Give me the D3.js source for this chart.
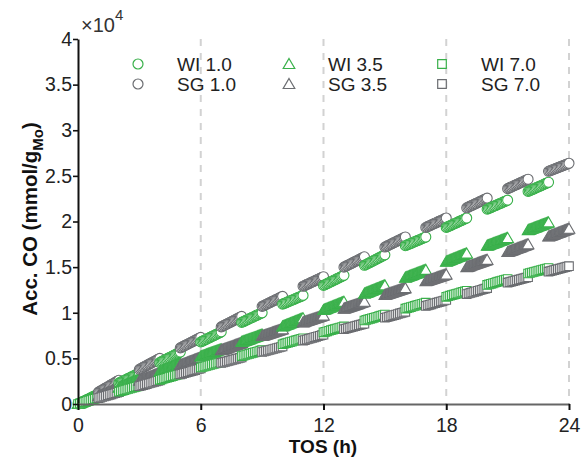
<!DOCTYPE html>
<html>
<head>
<meta charset="utf-8">
<script src="https://cdn.jsdelivr.net/npm/d3@7"></script>
<style>
  body { margin: 0; background: #fff; }
  svg { font-family: "Liberation Sans", Arial, sans-serif; display: block; }
</style>
</head>
<body>
<div class="container"></div>
<script>

// accumulated CO, in units of 1e4 mmol/g_Mo, one value per hour
var wiHours = [0,1,2,3,4,5,6,7,8,9,10,11,12,13,14,15,16,17,18,19,20,21,22,23];
var sgHours = [1,2,3,4,5,6,7,8,9,10,11,12,13,14,15,16,17,18,19,20,21,22,23,24];

var wi10 = [0, 0.11, 0.23, 0.34, 0.455, 0.57, 0.68, 0.79, 0.895, 1.0, 1.095, 1.19,
            1.30, 1.41, 1.52, 1.635, 1.735, 1.83, 1.935, 2.038, 2.135, 2.234, 2.33, 2.43];
var sg10 = [0.13, 0.26, 0.38, 0.50, 0.615, 0.73, 0.845, 0.96, 1.07, 1.18, 1.29, 1.395,
            1.50, 1.613, 1.72, 1.83, 1.935, 2.038, 2.15, 2.256, 2.36, 2.463, 2.55, 2.638];
var wi35 = [0, 0.09, 0.18, 0.27, 0.355, 0.44, 0.52, 0.60, 0.68, 0.76, 0.85, 0.94,
            1.03, 1.12, 1.21, 1.30, 1.385, 1.47, 1.56, 1.65, 1.735, 1.82, 1.905, 1.99];
var sg35 = [0.085, 0.17, 0.255, 0.34, 0.425, 0.51, 0.59, 0.67, 0.745, 0.82, 0.895, 0.97,
            1.045, 1.12, 1.195, 1.27, 1.345, 1.42, 1.50, 1.58, 1.665, 1.75, 1.835, 1.92];
var wi70 = [0, 0.07, 0.135, 0.20, 0.265, 0.33, 0.40, 0.46, 0.525, 0.59, 0.655, 0.72,
            0.785, 0.85, 0.915, 0.98, 1.045, 1.11, 1.175, 1.24, 1.305, 1.37, 1.43, 1.49];
var sg70 = [0.065, 0.13, 0.195, 0.26, 0.325, 0.39, 0.45, 0.51, 0.57, 0.63, 0.695, 0.76,
            0.82, 0.88, 0.945, 1.01, 1.075, 1.14, 1.205, 1.27, 1.33, 1.39, 1.45, 1.51];

var seriesNames = ['WI 1.0', 'SG 1.0', 'WI 3.5', 'SG 3.5', 'WI 7.0', 'SG 7.0'];
var xTicks = [0, 6, 12, 18, 24];
var yTicks = [0, 0.5, 1, 1.5, 2, 2.5, 3, 3.5, 4];

var loadChart = function () {

    const WIDTH = 581;
    const HEIGHT = 457;
    const LEFT = 78;
    const RIGHT = 569;
    const TOP = 39;
    const BOTTOM = 404;

    const GREEN = '#39b04a';
    const GRAY = '#6b6d71';
    const FONT = '"Liberation Sans", Arial, sans-serif';

    var xScale = d3.scaleLinear().domain([0, 24]).range([LEFT, RIGHT]);
    var yScale = d3.scaleLinear().domain([0, 4]).range([BOTTOM, TOP]);

    var svg = d3.select('.container').append('svg')
        .attr('width', WIDTH)
        .attr('height', HEIGHT);

    // dashed guides every 6 h
    svg.append('g').selectAll('line').data(xTicks.slice(1))
        .enter().append('line')
        .attr('x1', function (d) { return xScale(d); })
        .attr('x2', function (d) { return xScale(d); })
        .attr('y1', TOP)
        .attr('y2', BOTTOM)
        .attr('stroke', '#d2d2d2')
        .attr('stroke-width', 2)
        .attr('stroke-dasharray', '7,7');

    // marker outlines
    var shapes = {
        circle: function (x, y) {
            return 'M' + (x + 5) + ',' + y + 'A5,5 0 1,1 ' + (x - 5) + ',' + y + 'A5,5 0 1,1 ' + (x + 5) + ',' + y + 'Z';
        },
        triangle: function (x, y) {
            return 'M' + x + ',' + (y - 5.5) + 'L' + (x + 5.8) + ',' + (y + 4.5) + 'L' + (x - 5.8) + ',' + (y + 4.5) + 'Z';
        },
        square: function (x, y) {
            return 'M' + (x - 4.3) + ',' + (y - 4.3) + 'h8.6v8.6h-8.6Z';
        }
    };
    var sweepStep = { circle: 1.4, triangle: 0.8, square: 2 };

    var series = [
        { name: seriesNames[0], hours: wiHours, values: wi10, color: GREEN, shape: 'circle' },
        { name: seriesNames[1], hours: sgHours, values: sg10, color: GRAY, shape: 'circle' },
        { name: seriesNames[2], hours: wiHours, values: wi35, color: GREEN, shape: 'triangle' },
        { name: seriesNames[3], hours: sgHours, values: sg35, color: GRAY, shape: 'triangle' },
        { name: seriesNames[4], hours: wiHours, values: wi70, color: GREEN, shape: 'square' },
        { name: seriesNames[5], hours: sgHours, values: sg70, color: GRAY, shape: 'square' }
    ];

    // each run covers one hour; WI and SG runs alternate
    var runs = [];
    series.forEach(function (s, si) {
        for (var i = 0; i + 1 < s.hours.length; i += 2) {
            runs.push({
                s: s, order: si,
                t0: s.hours[i], v0: s.values[i],
                t1: s.hours[i + 1], v1: s.values[i + 1]
            });
        }
    });
    runs.sort(function (a, b) { return (a.t1 - b.t1) || (a.order - b.order); });

    var plot = svg.append('g').attr('class', 'plot');

    runs.forEach(function (r) {
        var x0 = xScale(r.t0), y0 = yScale(r.v0);
        var x1 = xScale(r.t1), y1 = yScale(r.v1);
        var len = Math.hypot(x1 - x0, y1 - y0);
        var n = Math.max(1, Math.ceil(len / sweepStep[r.s.shape]));
        var pos = d3.range(n + 1).map(function (k) {
            return [x0 + (x1 - x0) * k / n, y0 + (y1 - y0) * k / n];
        });
        plot.append('g').selectAll('path').data(pos)
            .enter().append('path')
            .attr('d', function (p) { return shapes[r.s.shape](p[0], p[1]); })
            .attr('fill', '#fff')
            .attr('stroke', r.s.color)
            .attr('stroke-width', 1.1);
    });

    // axes
    var yAxis = svg.append('g')
        .attr('transform', 'translate(' + LEFT + ',0)')
        .call(d3.axisLeft(yScale).tickValues(yTicks).tickSize(5).tickSizeOuter(0).tickPadding(1)
            .tickFormat(function (d) { return d; }));
    yAxis.select('.domain').attr('stroke', '#111').attr('stroke-width', 2);
    yAxis.selectAll('.tick line').attr('stroke', '#111').attr('stroke-width', 1.6);
    yAxis.selectAll('.tick text').attr('font-size', 19.5).attr('fill', '#222')
        .attr('font-family', FONT);

    var xAxis = svg.append('g')
        .attr('transform', 'translate(0,' + BOTTOM + ')')
        .call(d3.axisBottom(xScale).tickValues(xTicks).tickSize(6).tickSizeOuter(0).tickPadding(8));
    xAxis.select('.domain').attr('stroke', '#666').attr('stroke-width', 2);
    xAxis.selectAll('.tick line').attr('stroke', '#111').attr('stroke-width', 2);
    xAxis.selectAll('.tick text').attr('font-size', 19.5).attr('fill', '#222')
        .attr('font-family', FONT);

    // exponent above the y axis
    var expo = svg.append('text')
        .attr('x', 81).attr('y', 32)
        .attr('font-size', 20).attr('fill', '#333');
    expo.append('tspan').text('\u00d710');
    expo.append('tspan').attr('dy', -12).attr('font-size', 15).text('4');

    // axis titles
    var yTitle = svg.append('text')
        .attr('transform', 'translate(37,219) rotate(-90)')
        .attr('text-anchor', 'middle')
        .attr('font-size', 20.5).attr('font-weight', 'bold').attr('fill', '#111');
    yTitle.append('tspan').text('Acc. CO (mmol/g');
    yTitle.append('tspan').attr('dy', 6).attr('font-size', 15).text('Mo');
    yTitle.append('tspan').attr('dy', -6).text(')');

    svg.append('text')
        .attr('x', 323).attr('y', 453)
        .attr('text-anchor', 'middle')
        .attr('font-size', 19).attr('font-weight', 'bold').attr('fill', '#111')
        .text('TOS (h)');

    // legend, three columns of WI / SG pairs
    var legendCols = [138, 289, 442];
    var legendRows = [64, 84];
    var legend = svg.append('g').selectAll('g').data(series)
        .enter().append('g')
        .attr('transform', function (d, i) {
            return 'translate(' + legendCols[Math.floor(i / 2)] + ',' + legendRows[i % 2] + ')';
        });
    legend.append('path')
        .attr('d', function (d) { return shapes[d.shape](0, 0); })
        .attr('fill', '#fff')
        .attr('stroke', function (d) { return d.color; })
        .attr('stroke-width', 1.2);
    legend.append('text')
        .attr('x', 39).attr('y', 7)
        .attr('font-size', 19).attr('fill', '#222')
        .attr('font-family', FONT)
        .text(function (d) { return d.name; });
};

window.onload = loadChart;
</script>
</body>
</html>
